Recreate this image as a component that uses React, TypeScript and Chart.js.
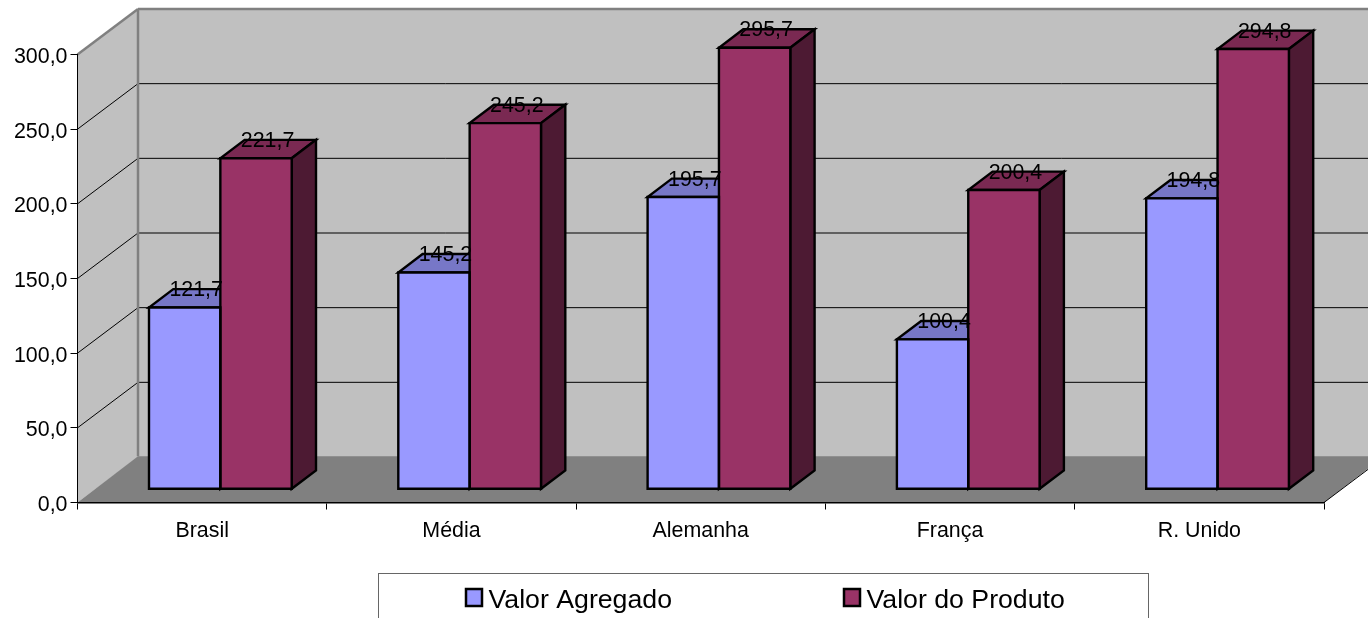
import React, { useEffect, useRef } from "react";
import { Chart, registerables } from "chart.js";

Chart.register(...registerables);

const categories = ["Brasil", "Média", "Alemanha", "França", "R. Unido"];
const valorAgregado = [121.7, 145.2, 195.7, 100.4, 194.8];
const valorProduto = [221.7, 245.2, 295.7, 200.4, 294.8];
const gridValues = [50, 100, 150, 200, 250];

const FONT = '"Liberation Sans", Arial, sans-serif';
const WALL_DX = 60.5;
const WALL_DY = 45.5;
const FLOOR_DY = 46.3;
const BAR_OFF_X = 18.2;
const BAR_OFF_Y = -13.2;
const BAR_DX = 24.3;
const BAR_DY = 18.4;
const BAR_LINE = 2.4;
const fmt = (v: number) => v.toFixed(1).replace(".", ",");

const faces = [
  { front: "#9999FF", top: "#7777C7", side: "#4D4D80" },
  { front: "#993366", top: "#7A2952", side: "#4D1A33" },
];

function poly(ctx: CanvasRenderingContext2D, pts: number[][], fill?: string, stroke?: string, lw = 1) {
  ctx.beginPath();
  pts.forEach((p, i) => (i ? ctx.lineTo(p[0], p[1]) : ctx.moveTo(p[0], p[1])));
  ctx.closePath();
  if (fill) {
    ctx.fillStyle = fill;
    ctx.fill();
  }
  if (stroke) {
    ctx.strokeStyle = stroke;
    ctx.lineWidth = lw;
    ctx.lineJoin = "miter";
    ctx.stroke();
  }
}

function line(ctx: CanvasRenderingContext2D, x1: number, y1: number, x2: number, y2: number, color: string, lw: number) {
  ctx.beginPath();
  ctx.moveTo(x1, y1);
  ctx.lineTo(x2, y2);
  ctx.strokeStyle = color;
  ctx.lineWidth = lw;
  ctx.stroke();
}

const box3d = {
  id: "box3d",
  beforeDraw(chart: any) {
    const { ctx } = chart;
    const x = chart.scales.x;
    const y = chart.scales.y;
    const L = x.left, R = x.right, T = y.top, B = y.bottom;
    ctx.save();
    ctx.fillStyle = "#FFFFFF";
    ctx.fillRect(0, 0, chart.width, chart.height);
    poly(ctx, [[L + WALL_DX, T - WALL_DY], [R + WALL_DX, T - WALL_DY], [R + WALL_DX, B - WALL_DY], [L + WALL_DX, B - WALL_DY]], "#C0C0C0");
    poly(ctx, [[L, T], [L + WALL_DX, T - WALL_DY], [L + WALL_DX, B - WALL_DY], [L, B]], "#C0C0C0");
    gridValues.forEach((v) => {
      const py = y.getPixelForValue(v);
      line(ctx, L, py, L + WALL_DX, py - WALL_DY, "#000000", 1);
      line(ctx, L + WALL_DX, py - WALL_DY, R + WALL_DX, py - WALL_DY, "#000000", 1);
    });
    line(ctx, L, T, L + WALL_DX, T - WALL_DY, "#808080", 2.5);
    line(ctx, L + WALL_DX, T - WALL_DY, R + WALL_DX, T - WALL_DY, "#808080", 2.5);
    line(ctx, L + WALL_DX, T - WALL_DY, L + WALL_DX, B - FLOOR_DY, "#808080", 2.5);
    poly(ctx, [[L, B], [L + WALL_DX, B - FLOOR_DY], [R + WALL_DX, B - FLOOR_DY], [R, B]], "#808080");
    line(ctx, R, B, R + WALL_DX, B - WALL_DY, "#000000", 1);
    ctx.restore();

    // legend frame and entries
    ctx.save();
    ctx.strokeStyle = "#666666";
    ctx.lineWidth = 1;
    ctx.strokeRect(378.5, 573.5, 770, 60);
    const swatchX = [466, 844];
    chart.data.datasets.forEach((ds: any, i: number) => {
      ctx.fillStyle = ds.backgroundColor;
      ctx.fillRect(swatchX[i], 589, 16, 17);
      ctx.strokeStyle = "#000000";
      ctx.lineWidth = 2.5;
      ctx.strokeRect(swatchX[i], 589, 16, 17);
      ctx.fillStyle = "#000000";
      ctx.font = `26.7px ${FONT}`;
      ctx.textAlign = "left";
      ctx.textBaseline = "alphabetic";
      ctx.fillText(ds.label, swatchX[i] + 22.5, 608);
    });
    ctx.restore();
  },
  beforeDatasetsDraw(chart: any) {
    const { ctx } = chart;
    ctx.save();
    chart.data.datasets.forEach((_: any, d: number) => {
      chart.getDatasetMeta(d).data.forEach((el: any) => {
        const l = el.x - el.width / 2 + BAR_OFF_X;
        const r = el.x + el.width / 2 + BAR_OFF_X;
        const t = el.y + BAR_OFF_Y;
        const b = el.base + BAR_OFF_Y;
        poly(ctx, [[l, t], [r, t], [r + BAR_DX, t - BAR_DY], [l + BAR_DX, t - BAR_DY]], faces[d].top, "#000000", BAR_LINE);
        poly(ctx, [[r, t], [r + BAR_DX, t - BAR_DY], [r + BAR_DX, b - BAR_DY], [r, b]], faces[d].side, "#000000", BAR_LINE);
      });
    });
    ctx.restore();
    ctx.save();
    ctx.translate(BAR_OFF_X, BAR_OFF_Y);
  },
  afterDatasetsDraw(chart: any) {
    const { ctx } = chart;
    ctx.restore();
    ctx.save();
    chart.data.datasets.forEach((_: any, d: number) => {
      chart.getDatasetMeta(d).data.forEach((el: any) => {
        const l = el.x - el.width / 2 + BAR_OFF_X;
        const r = el.x + el.width / 2 + BAR_OFF_X;
        const t = el.y + BAR_OFF_Y;
        const b = el.base + BAR_OFF_Y;
        poly(ctx, [[l, t], [r, t], [r, b], [l, b]], undefined, "#000000", BAR_LINE);
      });
    });
    ctx.fillStyle = "#000000";
    ctx.font = `21.4px ${FONT}`;
    ctx.textAlign = "center";
    ctx.textBaseline = "alphabetic";
    chart.data.datasets.forEach((ds: any, d: number) => {
      chart.getDatasetMeta(d).data.forEach((el: any, i: number) => {
        ctx.fillText(fmt(ds.data[i]), el.x + BAR_OFF_X + 11.5, el.y + BAR_OFF_Y - 11.5);
      });
    });
    ctx.restore();
  },
};

export default function App() {
  const ref = useRef<HTMLCanvasElement>(null);
  useEffect(() => {
    document.body.style.margin = "0";
    document.body.style.overflow = "hidden";
    const chart = new Chart(ref.current!, {
      type: "bar",
      plugins: [box3d],
      data: {
        labels: categories,
        datasets: [
          { label: "Valor Agregado", data: valorAgregado, backgroundColor: faces[0].front, clip: false },
          { label: "Valor do Produto", data: valorProduto, backgroundColor: faces[1].front, clip: false },
        ],
      } as any,
      options: {
        responsive: false,
        animation: false,
        layout: { padding: { top: 54.5, right: 44, bottom: 0, left: 0 } },
        datasets: { bar: { categoryPercentage: 0.5724, barPercentage: 1, borderWidth: 0 } },
        plugins: { legend: { display: false }, title: { display: false }, tooltip: { enabled: false } },
        scales: {
          x: {
            afterFit(s: any) {
              s.height = 115.5;
            },
            grid: { drawOnChartArea: false, drawTicks: true, tickLength: 7, color: "#000000", offset: true },
            border: { color: "#000000", width: 1.5 },
            ticks: { color: "#000000", font: { family: FONT, size: 21.4 }, padding: 9, maxRotation: 0, autoSkip: false },
          },
          y: {
            min: 0,
            max: 300,
            afterFit(s: any) {
              s.width = 77.5;
            },
            grid: { drawOnChartArea: false, drawTicks: true, tickLength: 7, color: "#000000" },
            border: { color: "#000000", width: 1 },
            ticks: { stepSize: 50, color: "#000000", font: { family: FONT, size: 21.4 }, padding: 3, labelOffset: 2.5, callback: (v: any) => fmt(Number(v)) },
          },
        },
      } as any,
    });
    return () => chart.destroy();
  }, []);
  return <canvas ref={ref} width={1368} height={618} style={{ display: "block", width: 1368, height: 618 }} />;
}
